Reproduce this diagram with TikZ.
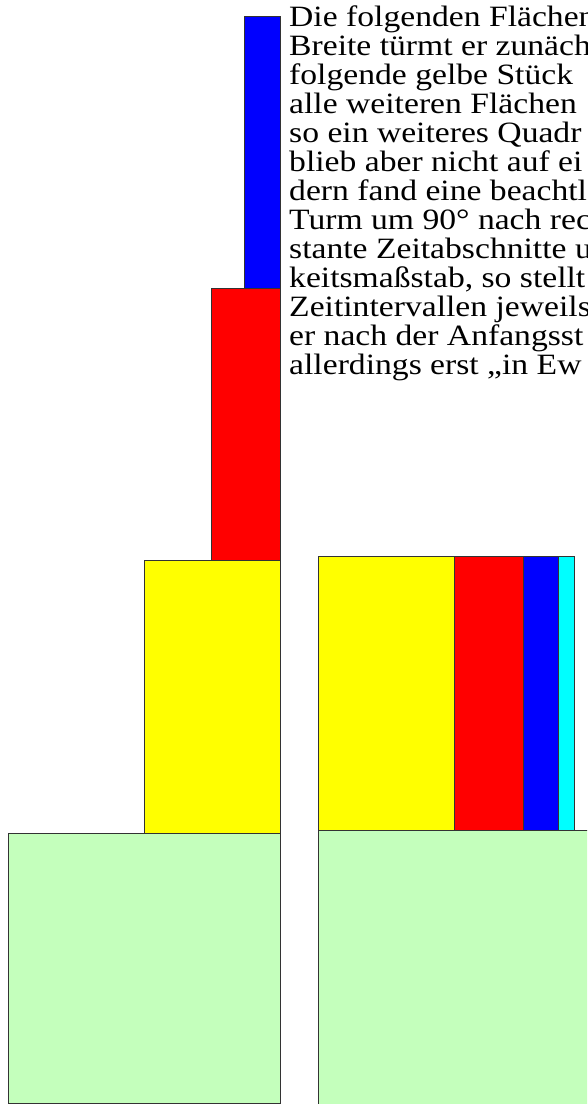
\documentclass[tikz,border=0pt]{standalone}
\usepackage{fontspec}
\setmainfont{Liberation Serif}
\newfontfamily\wideserif[FakeStretch=1.14]{Liberation Serif}
\definecolor{paleGreen}{RGB}{196,255,188}
\definecolor{pieceYellow}{RGB}{255,255,0}
\definecolor{pieceRed}{RGB}{255,0,0}
\definecolor{pieceBlue}{RGB}{0,0,255}
\definecolor{pieceCyan}{RGB}{0,255,255}
\begin{document}
\begin{tikzpicture}[x=1pt,y=-1pt,
  piece/.style={draw=black!80, line width=0.9pt, line join=miter},
  txtline/.style={anchor=base west, inner sep=0pt, font=\wideserif\fontsize{29.5pt}{29pt}\selectfont}]
\clip (0,0) rectangle (587,1104);
\fill[white] (0,0) rectangle (587,1104);

% left: the tower of halved strips standing upright
\filldraw[piece, fill=paleGreen]   (8.3,833.3) rectangle (280.7,1103.5);
\filldraw[piece, fill=pieceYellow] (144,560.5) rectangle (280.7,833.3);
\filldraw[piece, fill=pieceRed]    (211.7,288.5) rectangle (280.7,560.5);
\filldraw[piece, fill=pieceBlue]   (244.5,16) rectangle (280.7,288.5);

% right: the same strips laid side by side
\filldraw[piece, fill=paleGreen]   (318,830) rectangle (592,1104);
\filldraw[piece, fill=pieceYellow] (318,556) rectangle (454.3,830);
\filldraw[piece, fill=pieceRed]    (454.3,556) rectangle (523.3,830);
\filldraw[piece, fill=pieceBlue]   (523.3,556) rectangle (558.3,830);
\filldraw[piece, fill=pieceCyan]   (558.3,556) rectangle (574.3,830);

% running text beside the tower
\foreach \t [count=\i from 0] in {
  {Die folgenden Flächen},
  {Breite türmt er zunäch},
  {folgende gelbe Stück},
  {alle weiteren Flächen},
  {so ein weiteres Quadr},
  {blieb aber nicht auf ei},
  {dern fand eine beachtl},
  {Turm um 90° nach rec},
  {stante Zeitabschnitte u},
  {keitsmaßstab, so stellt},
  {Zeitintervallen jeweils},
  {er nach der Anfangsst},
  {allerdings erst „in Ew}}
  \node[txtline] (ln\i) at (289, 26+29*\i) {\t};
\end{tikzpicture}
\end{document}
